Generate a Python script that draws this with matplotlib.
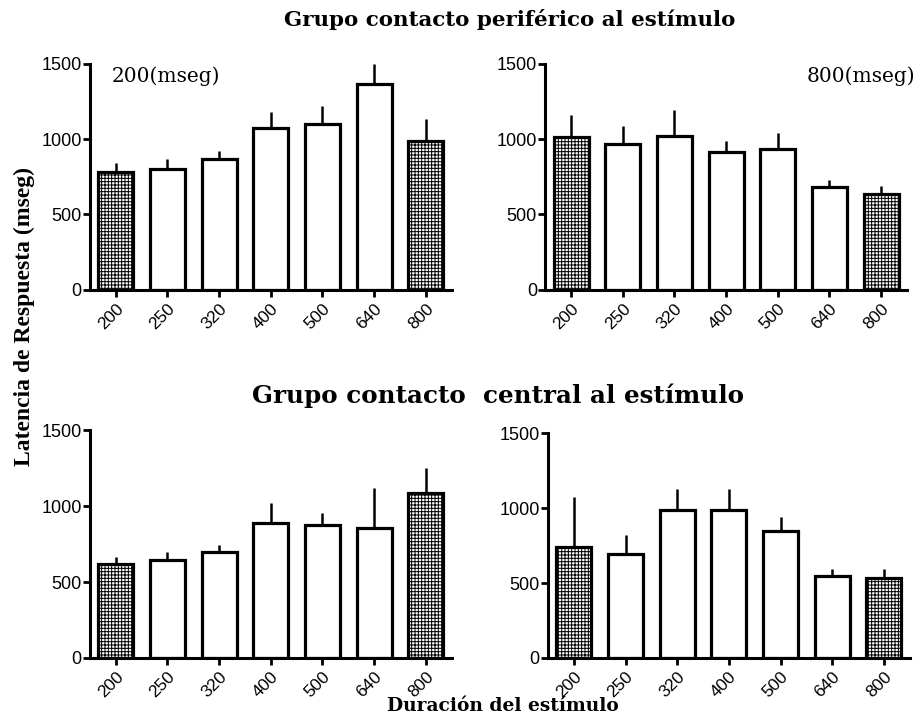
import matplotlib.pyplot as plt
import numpy as np

plt.rcParams['hatch.linewidth'] = 0.7

durations = ['200', '250', '320', '400', '500', '640', '800']

# grupo contacto periferico
per_200_mean = [785, 803, 867, 1073, 1102, 1365, 991]
per_200_err = [55, 64, 56, 106, 115, 135, 142]
per_800_mean = [1013, 969, 1018, 918, 934, 684, 633]
per_800_err = [148, 115, 177, 67, 110, 46, 59]

# grupo contacto central
cen_200_mean = [620, 646, 696, 887, 874, 858, 1084]
cen_200_err = [43, 53, 51, 136, 79, 263, 169]
cen_800_mean = [742, 694, 986, 990, 844, 547, 536]
cen_800_err = [332, 126, 138, 140, 93, 47, 58]

hatched = [True, False, False, False, False, False, True]

SERIF = ['DejaVu Serif']
TIMES = ['Liberation Serif', 'DejaVu Serif']
SANS = ['Liberation Sans', 'DejaVu Sans']
NARROW = ['Liberation Sans Narrow', 'Liberation Sans', 'DejaVu Sans']


def draw_panel(ax, means, errs, xfont):
    x = np.arange(len(durations))
    for i in x:
        ax.bar(i, means[i], width=0.68, color='white', edgecolor='black',
               linewidth=2.3, hatch='+++++' if hatched[i] else None, zorder=2)
        ax.plot([i, i], [means[i], means[i] + errs[i]], color='black',
                linewidth=1.8, zorder=1, clip_on=False, solid_capstyle='butt')
    ax.set_xlim(-0.5, 6.5)
    ax.set_ylim(0, 1500)
    ax.set_yticks([0, 500, 1000, 1500])
    ax.set_xticks(x)
    ax.set_xticklabels(durations, rotation=45, ha='right', rotation_mode='anchor',
                       family=xfont, fontsize=12.5)
    for lab in ax.get_yticklabels():
        lab.set_family(SANS)
        lab.set_fontsize(13)
    ax.spines['top'].set_visible(False)
    ax.spines['right'].set_visible(False)
    ax.spines['left'].set_linewidth(2.2)
    ax.spines['bottom'].set_linewidth(2.2)
    ax.tick_params(axis='y', width=2, length=5, pad=1)
    ax.tick_params(axis='x', width=2, length=5, pad=3)


fig = plt.figure(figsize=(9.18, 7.21), dpi=100)

ax1 = fig.add_axes([0.098, 0.598, 0.394, 0.3135])
ax2 = fig.add_axes([0.594, 0.598, 0.394, 0.3135])
ax3 = fig.add_axes([0.098, 0.0874, 0.394, 0.316])
ax4 = fig.add_axes([0.597, 0.0874, 0.394, 0.312])

draw_panel(ax1, per_200_mean, per_200_err, SANS)
draw_panel(ax2, per_800_mean, per_800_err, SANS)
draw_panel(ax3, cen_200_mean, cen_200_err, NARROW)
draw_panel(ax4, cen_800_mean, cen_800_err, NARROW)

fig.text(112 / 918, 1 - 76 / 721, '200(mseg)', family=SERIF,
         fontsize=14.5, va='center', ha='left')
fig.text(915 / 918, 1 - 76 / 721, '800(mseg)', family=SERIF,
         fontsize=14.5, va='center', ha='right')

fig.text(510 / 918, 1 - 20 / 721, 'Grupo contacto periférico al estímulo', family=SERIF,
         fontweight='bold', fontsize=15.4, ha='center', va='center')
fig.text(498 / 918, 1 - 396 / 721, 'Grupo contacto  central al estímulo', family=SERIF,
         fontweight='bold', fontsize=17.7, ha='center', va='center')
fig.text(24 / 918, 1 - 316 / 721, 'Latencia de Respuesta (mseg)', family=TIMES,
         fontweight='bold', fontsize=17, rotation=90, ha='center', va='center')
fig.text(503 / 918, 1 - 706 / 721, 'Duración del estímulo', family=SERIF,
         fontweight='bold', fontsize=13.4, ha='center', va='center')

fig.savefig('out.png', dpi=100)
